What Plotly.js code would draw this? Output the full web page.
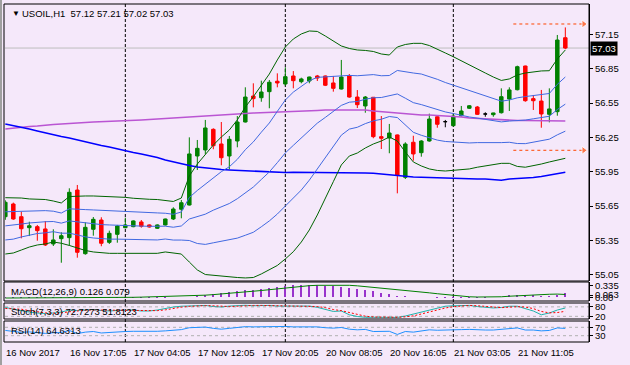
<!DOCTYPE html>
<html><head><meta charset="utf-8">
<script src="https://cdn.plot.ly/plotly-3.0.1.min.js"></script>
<style>html,body{margin:0;padding:0;background:#F5E8FA;} #chart{width:630px;height:365px;}</style>
</head><body><div id="chart"></div>
<script>
// ---------------- data ----------------
const openP = [55.557,55.668,55.557,55.461,55.470,55.450,55.319,55.365,55.374,55.790,
 55.234,55.447,55.528,55.333,55.403,55.461,55.470,55.511,55.485,55.456,
 55.485,55.537,55.622,55.659,56.087,56.140,56.320,56.192,56.087,56.218,
 56.384,56.611,56.596,56.649,56.740,56.716,56.786,56.736,56.742,56.786,
 56.786,56.725,56.672,56.786,56.602,56.524,56.600,56.256,56.244,56.271,
 55.901,56.207,56.116,56.218,56.430,56.387,56.352,56.439,56.504,56.515,
 56.454,56.448,56.465,56.585,56.666,56.873,56.588,56.567,56.451,56.474,
 57.12];
const highP = [55.700,55.680,55.601,55.513,55.485,55.519,55.447,55.421,55.805,55.834,
 55.508,55.554,55.552,55.435,55.485,55.548,55.525,55.528,55.490,55.490,
 55.540,55.639,55.703,56.250,56.227,56.402,56.329,56.384,56.262,56.436,
 56.687,56.722,56.745,56.751,56.809,56.862,56.829,56.771,56.780,56.795,
 56.790,56.786,56.926,56.803,56.663,56.611,56.602,56.436,56.367,56.275,
 56.207,56.264,56.225,56.457,56.436,56.402,56.460,56.524,56.532,56.524,
 56.469,56.465,56.678,56.687,56.876,56.876,56.620,56.664,56.678,57.144,
 57.21];
const lowP = [55.530,55.530,55.368,55.388,55.347,55.301,55.301,55.155,55.304,55.199,
 55.225,55.391,55.299,55.319,55.330,55.456,55.465,55.461,55.462,55.450,
 55.480,55.528,55.543,55.655,55.965,56.105,56.146,56.006,55.971,56.163,
 56.380,56.512,56.561,56.504,56.687,56.700,56.678,56.722,56.722,56.742,
 56.698,56.649,56.668,56.596,56.506,56.465,56.242,56.148,56.111,55.761,
 55.886,56.046,56.081,56.212,56.334,56.338,56.345,56.432,56.498,56.445,
 56.430,56.430,56.458,56.480,56.660,56.561,56.489,56.334,56.381,56.439,
 57.02];
const closeP = [55.683,55.537,55.452,55.478,55.435,55.310,55.354,55.391,55.770,55.246,
 55.464,55.534,55.325,55.412,55.476,55.485,55.520,55.473,55.467,55.485,
 55.537,55.624,55.679,56.105,56.154,56.332,56.177,56.072,56.233,56.384,
 56.602,56.588,56.646,56.731,56.725,56.780,56.745,56.760,56.777,56.768,
 56.705,56.678,56.777,56.602,56.535,56.602,56.256,56.242,56.288,55.921,
 56.192,56.105,56.218,56.410,56.364,56.387,56.436,56.480,56.526,56.451,
 56.454,56.463,56.605,56.664,56.867,56.570,56.570,56.454,56.498,57.100,
 57.03];
const bbOuterUpper = [55.723,55.723,55.720,55.712,55.709,55.707,55.694,55.677,55.733,55.738,
 55.738,55.738,55.736,55.733,55.731,55.726,55.718,55.712,55.709,55.707,
 55.699,55.690,55.720,55.913,56.017,56.105,56.183,56.253,56.314,56.402,
 56.515,56.605,56.707,56.803,56.926,57.039,57.109,57.153,57.179,57.175,
 57.135,57.092,57.048,57.026,57.013,57.009,57.000,56.978,56.969,57.039,
 57.061,57.071,57.071,57.052,57.022,56.987,56.954,56.917,56.882,56.847,
 56.812,56.777,56.747,56.760,56.795,56.812,56.823,56.830,56.832,56.934,
 57.013];
const bbOuterLower = [55.231,55.240,55.266,55.292,55.310,55.319,55.336,55.325,55.306,55.284,
 55.262,55.249,55.240,55.237,55.237,55.237,55.237,55.237,55.237,55.237,
 55.249,55.240,55.231,55.161,55.092,55.052,55.044,55.039,55.030,55.026,
 55.022,55.026,55.057,55.092,55.131,55.188,55.251,55.336,55.441,55.572,
 55.712,55.863,56.009,56.087,56.113,56.157,56.192,56.218,56.253,56.218,
 56.122,56.035,56.000,55.974,55.961,55.956,55.962,55.965,55.974,55.989,
 56.000,56.013,56.023,56.023,55.996,55.989,56.000,56.017,56.035,56.052,
 56.067];
const bbMiddle = [55.477,55.482,55.493,55.502,55.510,55.513,55.515,55.501,55.520,55.511,
 55.500,55.494,55.488,55.485,55.484,55.482,55.478,55.475,55.473,55.472,
 55.474,55.465,55.476,55.537,55.555,55.579,55.614,55.646,55.672,55.714,
 55.769,55.816,55.882,55.948,56.029,56.114,56.180,56.245,56.310,56.374,
 56.424,56.478,56.529,56.557,56.563,56.583,56.596,56.598,56.611,56.629,
 56.592,56.553,56.536,56.513,56.492,56.472,56.458,56.441,56.428,56.418,
 56.406,56.395,56.385,56.392,56.396,56.401,56.412,56.424,56.434,56.493,
 56.540];
const bbInnerUpper = [55.600,55.602,55.607,55.607,55.609,55.610,55.605,55.589,55.626,55.625,
 55.619,55.616,55.612,55.609,55.608,55.604,55.598,55.593,55.591,55.590,
 55.587,55.578,55.598,55.725,55.786,55.842,55.898,55.950,55.993,56.058,
 56.142,56.210,56.295,56.375,56.477,56.576,56.645,56.699,56.745,56.774,
 56.779,56.785,56.788,56.791,56.788,56.796,56.798,56.788,56.790,56.834,
 56.826,56.812,56.803,56.782,56.757,56.729,56.706,56.679,56.655,56.633,
 56.609,56.586,56.566,56.576,56.595,56.606,56.617,56.627,56.633,56.713,
 56.777];
const bbInnerLower = [55.354,55.361,55.380,55.397,55.410,55.416,55.426,55.413,55.413,55.398,
 55.381,55.371,55.364,55.361,55.361,55.359,55.357,55.356,55.355,55.354,
 55.362,55.353,55.353,55.349,55.323,55.315,55.329,55.342,55.351,55.370,
 55.395,55.421,55.469,55.520,55.580,55.651,55.716,55.790,55.876,55.973,
 56.068,56.170,56.269,56.322,56.338,56.370,56.394,56.408,56.432,56.423,
 56.357,56.294,56.268,56.244,56.226,56.214,56.210,56.203,56.201,56.204,
 56.203,56.204,56.204,56.207,56.196,56.195,56.206,56.220,56.234,56.272,
 56.304];
const maBlue = [56.367,56.354,56.340,56.323,56.306,56.288,56.275,56.258,56.244,56.227,
 56.209,56.192,56.179,56.166,56.148,56.131,56.118,56.105,56.092,56.074,
 56.052,56.035,56.017,56.004,55.991,55.982,55.974,55.969,55.965,55.961,
 55.959,55.956,55.952,55.947,55.946,55.943,55.945,55.945,55.945,55.945,
 55.945,55.945,55.945,55.945,55.945,55.939,55.936,55.930,55.921,55.913,
 55.906,55.904,55.901,55.898,55.895,55.892,55.891,55.889,55.888,55.886,
 55.886,55.878,55.875,55.886,55.889,55.892,55.899,55.908,55.921,55.934,
 55.945];
const maPurple = [56.323,56.332,56.340,56.345,56.349,56.358,56.362,56.367,56.373,56.375,
 56.380,56.384,56.387,56.388,56.390,56.393,56.393,56.402,56.406,56.410,
 56.415,56.419,56.423,56.425,56.428,56.432,56.441,56.445,56.450,56.454,
 56.458,56.463,56.465,56.467,56.471,56.471,56.474,56.476,56.480,56.485,
 56.489,56.489,56.493,56.493,56.493,56.489,56.480,56.474,56.467,56.463,
 56.460,56.454,56.445,56.445,56.441,56.439,56.432,56.428,56.419,56.415,
 56.410,56.408,56.406,56.402,56.397,56.397,56.397,56.397,56.397,56.396,
 56.393];
const macdHist = [-0.02,-0.02,-0.025,-0.025,-0.03,-0.03,-0.03,-0.03,-0.015,-0.025,
 -0.025,-0.02,-0.025,-0.025,-0.02,-0.02,-0.015,-0.015,-0.015,-0.01,
 -0.01,-0.005,0.0,0.01,0.028,0.073,0.10,0.12,0.148,0.168,
 0.196,0.212,0.24,0.26,0.288,0.316,0.33,0.335,0.335,0.33,
 0.325,0.307,0.288,0.26,0.232,0.212,0.168,0.12,0.092,0.045,
 0.028,0.015,0.02,0.005,-0.01,-0.02,-0.02,-0.02,-0.015,-0.01,
 -0.01,0.005,0.02,0.056,0.06,0.06,0.055,0.05,0.05,0.065,
 0.126];
const macdSignal = [-0.02,-0.02,-0.02,-0.02,-0.02,-0.02,-0.018,-0.016,-0.014,-0.012,
 -0.01,-0.008,-0.006,-0.004,-0.002,0,0,0.005,0.01,0.015,
 0.02,0.025,0.028,0.035,0.045,0.06,0.075,0.09,0.11,0.13,
 0.15,0.17,0.19,0.215,0.24,0.265,0.29,0.31,0.325,0.335,
 0.34,0.34,0.34,0.335,0.32,0.30,0.28,0.255,0.23,0.21,
 0.19,0.17,0.15,0.125,0.10,0.075,0.05,0.03,0.015,0.008,
 0.008,0.008,0.015,0.03,0.045,0.056,0.065,0.075,0.085,0.09,
 0.079];
const stochMain = [76,66,54,47,41,38,41,47,60,57, 60,63,57,54,57,60,60,54,54,60,
 70,79,84,85,89,89,82,79,85,89, 90,87,89,89,85,87,85,85,85,77,
 62,51,54,30,19,14,14,13,16,13, 22,35,47,62,73,84,87,90,89,82,
 77,73,76,84,84,70,54,30,41,60, 72.7273];
const stochSignal = [70,68,65,56,47,42,40,42,49,55, 59,60,60,58,56,57,59,58,56,56,
 61,70,78,83,86,88,87,83,82,84, 88,89,89,88,88,87,86,86,86,82,
 75,63,56,45,34,21,16,14,14,14, 17,23,35,48,61,73,81,87,89,87,
 83,77,75,78,81,79,69,51,42,44, 51.8123];
const rsiVals = [55,50,46,48,46,41,44,45,55,40, 47,50,43,46,49,50,51,50,49,51,
 53,57,59,68,68,71,65,61,65,68, 73,72,73,74,73,74,72,72,73,72,
 68,66,69,61,58,60,50,49,51,36, 50,47,51,58,56,56,58,59,60,57,
 57,57,61,63,67,57,57,53,55,67, 64.6313];
const timeLabels = ['16 Nov 2017','16 Nov 17:05','17 Nov 04:05','17 Nov 12:05','17 Nov 20:05',
 '20 Nov 08:05','20 Nov 16:05','21 Nov 03:05','21 Nov 11:05'];
const timeLabelBars = [0,8,16,24,32,40,48,56,64];
const daySeparatorBars = [15,35,56];
const priceTicks = [57.15,56.85,56.55,56.25,55.95,55.65,55.35,55.05];
const lastPrice = 57.03;
const arrowLevels = [57.24,56.137];
const arrowSpan = [63.5,72.3];
const macdTicks = [0.335,0.063,0.0], macdTickText = ['0.335','0.063','0.00'];
const stochLevels = [80,20], rsiLevels = [70,30];

// ---------------- build ----------------
const bars = openP.map((_,i)=>i);
const isDoji = i => openP[i]===closeP[i];
const nonDoji = bars.filter(i=>!isDoji(i)), doji = bars.filter(i=>isDoji(i));
const pick = (arr, idx) => idx.map(i=>arr[i]);
const FONT = 'Liberation Sans, Arial, sans-serif';
const GREEN='#008000', RED='#FF0000';

const traces = [];
const line = (y, color, width, yaxis, extra) => Object.assign({type:'scatter', mode:'lines', x:bars, y:y,
  line:{color:color, width:width}, yaxis:yaxis, hoverinfo:'skip', showlegend:false}, extra||{});
traces.push(line(maPurple,'#BA55D3',1.6,'y'));
traces.push(line(maBlue,'#0000FF',1.6,'y'));
traces.push(line(bbOuterUpper,'#006400',1,'y'));
traces.push(line(bbOuterLower,'#006400',1,'y'));
traces.push(line(bbInnerUpper,'#4169E1',1,'y'));
traces.push(line(bbMiddle,'#4169E1',1,'y'));
traces.push(line(bbInnerLower,'#4169E1',1,'y'));
traces.push({type:'candlestick', x:pick(bars,nonDoji), open:pick(openP,nonDoji), high:pick(highP,nonDoji),
  low:pick(lowP,nonDoji), close:pick(closeP,nonDoji), yaxis:'y', showlegend:false, hoverinfo:'skip',
  increasing:{line:{color:GREEN,width:1}, fillcolor:GREEN},
  decreasing:{line:{color:RED,width:1}, fillcolor:RED}, whiskerwidth:0});
traces.push({type:'candlestick', x:pick(bars,doji), open:pick(openP,doji), high:pick(highP,doji),
  low:pick(lowP,doji), close:pick(closeP,doji), yaxis:'y', showlegend:false, hoverinfo:'skip',
  increasing:{line:{color:'#000',width:1}, fillcolor:'#000'},
  decreasing:{line:{color:'#000',width:1}, fillcolor:'#000'}, whiskerwidth:0});
arrowLevels.forEach(p=>{
  traces.push({type:'scatter', mode:'lines+markers', x:arrowSpan, y:[p,p], yaxis:'y',
    line:{color:'#FF4500', width:1, dash:'3px,3px'},
    marker:{symbol:'triangle-right', size:[0,7], color:'#FF4500'}, hoverinfo:'skip', showlegend:false});
});
// MACD
traces.push({type:'bar', x:bars, y:macdHist, yaxis:'y2', width:0.22, marker:{color:'#9932CC', line:{width:0}},
  hoverinfo:'skip', showlegend:false});
traces.push(line(macdSignal,'#008000',1,'y2'));
// Stoch
traces.push(line(stochMain,'#20B2AA',1,'y3'));
traces.push(line(stochSignal,'#FF0000',1,'y3',{line:{color:'#FF0000',width:1,dash:'2px,2px'}}));
// RSI
traces.push(line(rsiVals,'#1E90FF',1,'y4'));

// ---------------- layout ----------------
const PB = 342, PT = 4, PH = PB-PT;
const dom = (top,bot)=>[(PB-bot)/PH,(PB-top)/PH];
const dMain = dom(4,281), dMacd = dom(282,301), dSto = dom(303,319), dRsi = dom(321,342);
const axBase = {side:'right', anchor:'x', showgrid:false, zeroline:false, showline:true, linecolor:'#000',
  linewidth:1, ticks:'outside', ticklen:3, tickcolor:'#000', fixedrange:true,
  tickfont:{family:FONT, size:9.5, color:'#000'}};
const fmt = v => v.toFixed(2);
const shapes = [];
[dMain,dMacd,dSto,dRsi].forEach(d=>shapes.push({type:'rect', xref:'paper', yref:'paper', x0:-1/584, x1:1,
  y0:d[0], y1:d[1], line:{color:'#000', width:1}, fillcolor:'rgba(0,0,0,0)', layer:'above'}));
shapes.push({type:'line', xref:'paper', yref:'y', x0:0, x1:1, y0:lastPrice, y1:lastPrice,
  line:{color:'#BDBDBD', width:1}, layer:'below'});
daySeparatorBars.forEach(b=>shapes.push({type:'line', xref:'x', yref:'paper', x0:b, x1:b, y0:0, y1:1,
  line:{color:'#000', width:1, dash:'3px,2px'}, layer:'below'}));
stochLevels.forEach(v=>shapes.push({type:'line', xref:'paper', yref:'y3', x0:0, x1:1, y0:v, y1:v,
  line:{color:'#B0B0B0', width:1, dash:'3px,3px'}, layer:'below'}));
rsiLevels.forEach(v=>shapes.push({type:'line', xref:'paper', yref:'y4', x0:0, x1:1, y0:v, y1:v,
  line:{color:'#B0B0B0', width:1, dash:'3px,3px'}, layer:'below'}));
shapes.push({type:'rect', xref:'paper', yref:'paper', x0:-5/584, x1:-3/584, y0:-23/PH, y1:(365-4+4)/PH,
  line:{width:0}, fillcolor:'#A0A0A0'});

const tf = {family:FONT, size:9.5, color:'#000'};
const annotations = [];
timeLabels.forEach((t,i)=>annotations.push({xref:'x', yref:'paper', x:timeLabelBars[i], y:0, yshift:-10,
  xanchor:'left', yanchor:'middle', xshift:-1, text:t, showarrow:false, font:tf}));
annotations.push({xref:'paper', yref:'paper', x:0, y:1, xshift:5, yshift:-9, xanchor:'left', yanchor:'middle',
  text:'▼', showarrow:false, font:{family:FONT, size:8, color:'#000'}});
annotations.push({xref:'paper', yref:'paper', x:0, y:1, xshift:15, yshift:-9, xanchor:'left', yanchor:'middle',
  text:'USOIL,H1  57.12 57.21 57.02 57.03', showarrow:false, font:tf});
annotations.push({xref:'paper', yref:'y', x:1, y:lastPrice, xshift:1, xanchor:'left', yanchor:'middle',
  text:fmt(lastPrice), showarrow:false, font:{family:FONT, size:9.5, color:'#FFF'}, bgcolor:'#000', borderpad:1});
const panelLabel = (txt, d, off) => ({xref:'paper', yref:'paper', x:0, y:d[1], xshift:4, yshift:off,
  xanchor:'left', yanchor:'middle', text:txt, showarrow:false, font:tf});
annotations.push(panelLabel('MACD(12,26,9) 0.126 0.079', dMacd, -9));
annotations.push(panelLabel('Stoch(7,3,3) 72.7273 51.8123', dSto, -8));
annotations.push(panelLabel('RSI(14) 64.6313', dRsi, -9));

const layout = {
  width:630, height:365, margin:{l:5, r:41, t:4, b:23}, paper_bgcolor:'#F5E8FA', plot_bgcolor:'#F5E8FA',
  showlegend:false, boxgap:0.38, bargap:0,
  xaxis:{range:[-0.04,72.96], anchor:'y4', showgrid:false, zeroline:false, showticklabels:false, ticks:'',
    fixedrange:true, rangeslider:{visible:false}, showline:false},
  yaxis:Object.assign({}, axBase, {domain:dMain, range:[54.9954,57.4146], tickvals:priceTicks, ticktext:priceTicks.map(fmt)}),
  yaxis2:Object.assign({}, axBase, {domain:dMacd, range:[-0.103,0.427], tickvals:macdTicks, ticktext:macdTickText}),
  yaxis3:Object.assign({}, axBase, {domain:dSto, range:[3.2,104.4], tickvals:stochLevels, ticktext:stochLevels.map(String)}),
  yaxis4:Object.assign({}, axBase, {domain:dRsi, range:[0,100], tickvals:rsiLevels, ticktext:rsiLevels.map(String)}),
  shapes:shapes, annotations:annotations
};
Plotly.newPlot('chart', traces, layout, {staticPlot:true, displayModeBar:false});
</script></body></html>
